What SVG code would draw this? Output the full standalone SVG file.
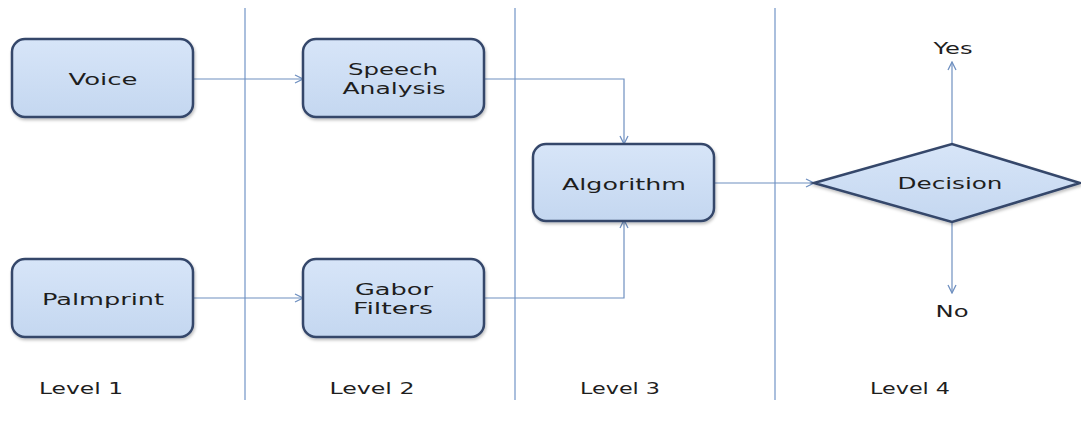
<svg xmlns="http://www.w3.org/2000/svg" width="1081" height="427" viewBox="0 0 1081 427">
<style>
  .box { fill: url(#g); stroke: #34476b; stroke-width: 2.5; filter: url(#sh); }
  .lane { stroke: #8eaad2; stroke-width: 1.5; fill: none; }
  .conn { stroke: #6f90c0; stroke-width: 1.2; fill: none; marker-end: url(#ah); }
  text { font-family: "DejaVu Sans", "Liberation Sans", sans-serif; font-size: 16px; fill: #1e1e1e; text-anchor: middle; }
</style>
<defs>
  <linearGradient id="g" x1="0" y1="0" x2="0" y2="1">
    <stop offset="0" stop-color="#d7e5f8"/>
    <stop offset="1" stop-color="#c4d7f0"/>
  </linearGradient>
  <filter id="sh" x="-10%" y="-10%" width="120%" height="130%">
    <feDropShadow dx="1" dy="2" stdDeviation="1.5" flood-color="#000" flood-opacity="0.25"/>
  </filter>
  <marker id="ah" viewBox="0 0 10 10" refX="9" refY="5" markerWidth="10" markerHeight="10" markerUnits="userSpaceOnUse" orient="auto">
    <path d="M1,1 L9,5 L1,9" fill="none" stroke="#6f90c0" stroke-width="1.3"/>
  </marker>
</defs>

<g id="lanes">
  <line class="lane" x1="245" y1="8" x2="245" y2="400"/>
  <line class="lane" x1="515" y1="8" x2="515" y2="400"/>
  <line class="lane" x1="775" y1="8" x2="775" y2="400"/>
</g>

<g id="connectors">
  <path class="conn" d="M193,79 H303"/>
  <path class="conn" d="M193,298 H303"/>
  <path class="conn" d="M484,79 H624 V144"/>
  <path class="conn" d="M484,298 H624 V220"/>
  <path class="conn" d="M714,183 H814"/>
  <path class="conn" d="M952,144 V62"/>
  <path class="conn" d="M952,222 V293"/>
</g>

<g id="voice">
  <rect class="box" x="12" y="39" width="181" height="78" rx="13"/>
  <text x="103" y="85" textLength="69" lengthAdjust="spacingAndGlyphs">Voice</text>
</g>
<g id="speech-analysis">
  <rect class="box" x="303" y="39" width="181" height="78" rx="13"/>
  <text x="393" y="75" textLength="90" lengthAdjust="spacingAndGlyphs">Speech</text>
  <text x="394" y="94" textLength="103" lengthAdjust="spacingAndGlyphs">Analysis</text>
</g>
<g id="palmprint">
  <rect class="box" x="12" y="259" width="181" height="78" rx="13"/>
  <text x="103" y="305" textLength="122" lengthAdjust="spacingAndGlyphs">Palmprint</text>
</g>
<g id="gabor-filters">
  <rect class="box" x="303" y="259" width="181" height="78" rx="13"/>
  <text x="394" y="295" textLength="78" lengthAdjust="spacingAndGlyphs">Gabor</text>
  <text x="393" y="314" textLength="80" lengthAdjust="spacingAndGlyphs">Filters</text>
</g>
<g id="algorithm">
  <rect class="box" x="533" y="144" width="181" height="77" rx="13"/>
  <text x="624" y="190" textLength="124" lengthAdjust="spacingAndGlyphs">Algorithm</text>
</g>
<g id="decision">
  <polygon class="box" points="814,183 952,144 1080,183 952,222"/>
  <text x="950" y="189" textLength="105" lengthAdjust="spacingAndGlyphs">Decision</text>
</g>
<g id="yes">
  <text x="953" y="54" textLength="39" lengthAdjust="spacingAndGlyphs">Yes</text>
</g>
<g id="no">
  <text x="952" y="317" textLength="33" lengthAdjust="spacingAndGlyphs">No</text>
</g>

<g id="levels">
  <text x="81" y="394" textLength="84" lengthAdjust="spacingAndGlyphs">Level 1</text>
  <text x="372" y="394" textLength="85" lengthAdjust="spacingAndGlyphs">Level 2</text>
  <text x="620" y="394" textLength="80" lengthAdjust="spacingAndGlyphs">Level 3</text>
  <text x="910" y="394" textLength="80" lengthAdjust="spacingAndGlyphs">Level 4</text>
</g>
</svg>
